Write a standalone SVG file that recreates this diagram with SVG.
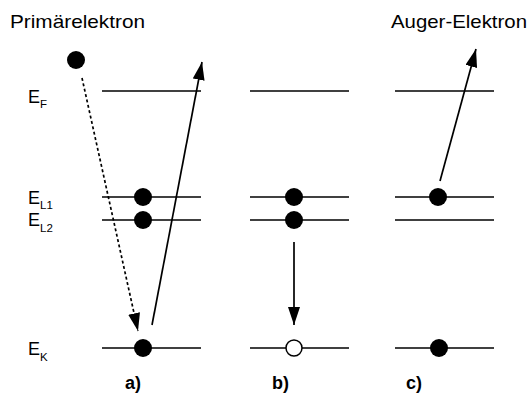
<svg xmlns="http://www.w3.org/2000/svg" width="529" height="396" viewBox="0 0 529 396">
  <style>
    .lvl { stroke: #000; stroke-width: 1.7; fill: none; }
    .e { fill: #000; }
    .h { fill: #fff; stroke: #000; stroke-width: 1.5; }
    .dash { stroke-dasharray: 3 2.5; }
    text { font-family: "Liberation Sans", Arial, sans-serif; fill: #000; }
    .t { font-size: 18.5px; }
    .E { font-size: 18px; }
    .sub { font-size: 11.5px; }
    .lab { font-size: 18px; font-weight: bold; }
  </style>
  <defs>
    <marker id="headBig" viewBox="0 0 18 12" refX="18" refY="6" markerWidth="18" markerHeight="12" markerUnits="userSpaceOnUse" orient="auto">
      <path d="M0,0 L18,6 L0,12 Z" fill="#000"/>
    </marker>
  </defs>

  <!-- titles and energy level labels -->
  <g id="labels">
    <text class="t" x="10" y="28" textLength="135" lengthAdjust="spacingAndGlyphs">Primärelektron</text>
    <text class="t" x="391" y="28" textLength="136" lengthAdjust="spacingAndGlyphs">Auger-Elektron</text>
    <text class="E" x="28" y="102.5">E<tspan class="sub" dy="5.5">F</tspan></text>
    <text class="E" x="28" y="203.5">E<tspan class="sub" dy="5.5">L1</tspan></text>
    <text class="E" x="28" y="225.5">E<tspan class="sub" dy="6">L2</tspan></text>
    <text class="E" x="28" y="355">E<tspan class="sub" dy="6">K</tspan></text>
  </g>

  <!-- panel a: primary electron ionises the K shell -->
  <g id="panel-a">
    <line class="lvl" x1="102" y1="91" x2="201" y2="91"/>
    <line class="lvl" x1="102" y1="197" x2="201" y2="197"/>
    <line class="lvl" x1="102" y1="220" x2="201" y2="220"/>
    <line class="lvl" x1="102" y1="348" x2="201" y2="348"/>
    <circle class="e" cx="143" cy="197" r="9"/>
    <circle class="e" cx="143" cy="220" r="9"/>
    <circle class="e" cx="143" cy="348" r="9"/>
    <circle class="e" cx="76" cy="60" r="9"/>
    <text class="lab" x="125" y="389">a)</text>
  </g>

  <!-- panel b: L electron fills the K vacancy -->
  <g id="panel-b">
    <line class="lvl" x1="250" y1="91" x2="349" y2="91"/>
    <line class="lvl" x1="250" y1="197" x2="349" y2="197"/>
    <line class="lvl" x1="250" y1="220" x2="349" y2="220"/>
    <line class="lvl" x1="250" y1="348" x2="349" y2="348"/>
    <circle class="e" cx="294" cy="197" r="9"/>
    <circle class="e" cx="294" cy="220" r="9"/>
    <circle class="h" cx="294" cy="348" r="8"/>
    <text class="lab" x="272" y="389">b)</text>
  </g>

  <!-- panel c: Auger electron leaves -->
  <g id="panel-c">
    <line class="lvl" x1="395" y1="91" x2="494" y2="91"/>
    <line class="lvl" x1="395" y1="197" x2="494" y2="197"/>
    <line class="lvl" x1="395" y1="220" x2="494" y2="220"/>
    <line class="lvl" x1="395" y1="348" x2="494" y2="348"/>
    <circle class="e" cx="438" cy="197" r="9"/>
    <circle class="e" cx="439" cy="348" r="9"/>
    <text class="lab" x="406" y="389">c)</text>
  </g>

  <!-- transitions -->
  <g id="connectors">
    <line class="lvl dash" x1="82" y1="78" x2="138" y2="331" marker-end="url(#headBig)"/>
    <line class="lvl" x1="152" y1="325" x2="202" y2="62" marker-end="url(#headBig)"/>
    <line class="lvl" x1="294" y1="242" x2="294" y2="325" marker-end="url(#headBig)"/>
    <line class="lvl" x1="440" y1="181" x2="476" y2="49" marker-end="url(#headBig)"/>
  </g>
</svg>
